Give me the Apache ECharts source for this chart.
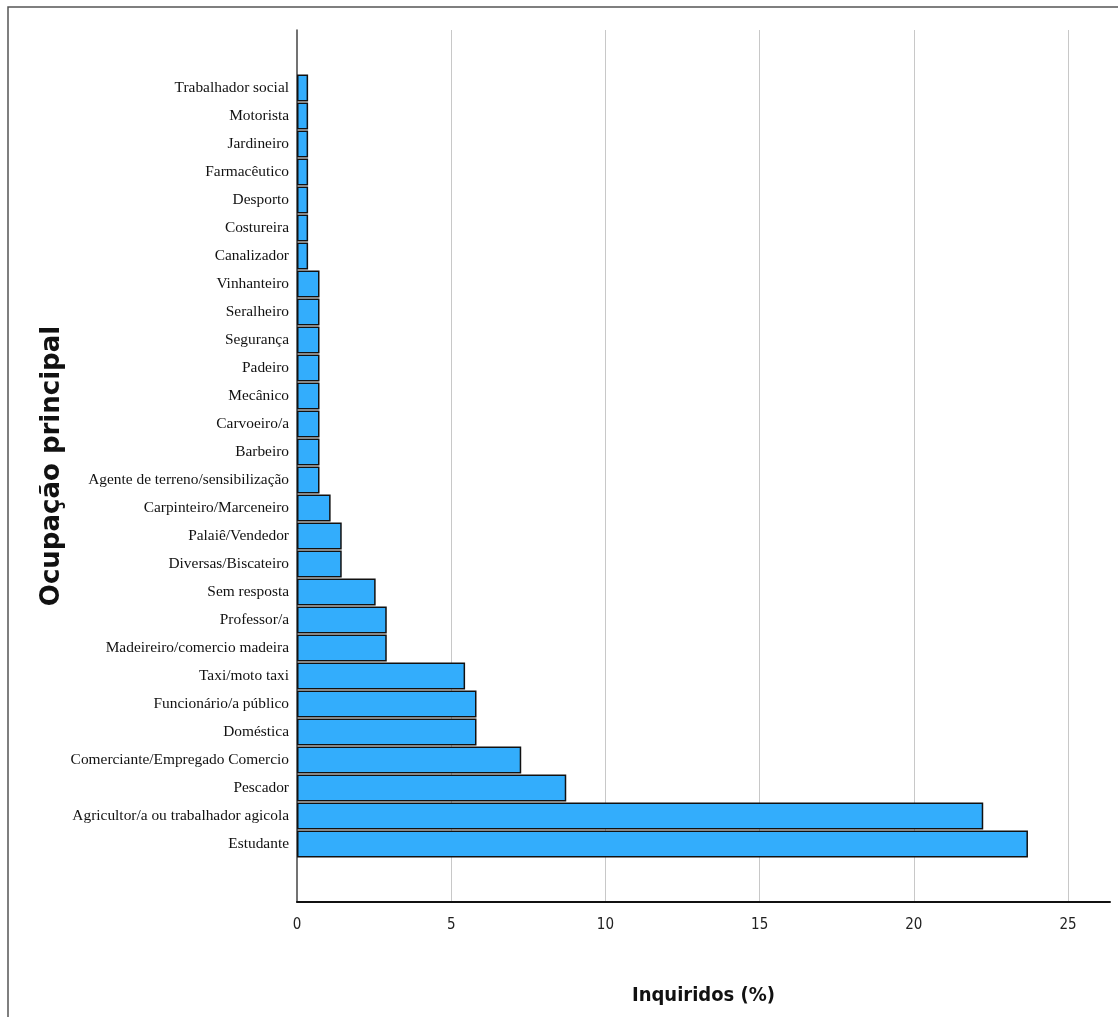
<!DOCTYPE html>
<html><head><meta charset="utf-8">
<script src="https://cdn.jsdelivr.net/npm/echarts@6/dist/echarts.min.js"></script>
<style>html,body{margin:0;padding:0;background:#fff}#c{width:1118px;height:1017px}</style>
</head><body><div id="c"></div>
<script>
const categories = ["Trabalhador social","Motorista","Jardineiro","Farmacêutico","Desporto","Costureira","Canalizador","Vinhanteiro","Seralheiro","Segurança","Padeiro","Mecânico","Carvoeiro/a","Barbeiro","Agente de terreno/sensibilização","Carpinteiro/Marceneiro","Palaiê/Vendedor","Diversas/Biscateiro","Sem resposta","Professor/a","Madeireiro/comercio madeira","Taxi/moto taxi","Funcionário/a público","Doméstica","Comerciante/Empregado Comercio","Pescador","Agricultor/a ou trabalhador agicola","Estudante"];
const values = [0.36,0.36,0.36,0.36,0.36,0.36,0.36,0.73,0.73,0.73,0.73,0.73,0.73,0.73,0.73,1.09,1.45,1.45,2.55,2.91,2.91,5.45,5.82,5.82,7.27,8.73,22.25,23.7];
const xTicks = [0,5,10,15,20,25];
const xMax = 26.36;

const chart = echarts.init(document.getElementById('c'));
chart.setOption({
  animation: false,
  backgroundColor: '#fff',
  graphic: [{type:'polyline', shape:{points:[[8,1017],[8,7],[1118,7]]}, style:{fill:'none', stroke:'#555', lineWidth:1.5}, z:-1}],
  grid: [
    {left:297, top:74, width:813, height:784},
    {left:297, top:30, width:813, height:872}
  ],
  xAxis: [
    {gridIndex:0, type:'value', min:0, max:xMax, show:false},
    {gridIndex:1, type:'value', min:0, max:xMax, interval:5,
     axisLine:{show:true, lineStyle:{color:'#111', width:2}},
     axisTick:{show:false},
     axisLabel:{showMaxLabel:false, margin:16, color:'#222', fontSize:15, fontFamily:'"DejaVu Sans Condensed",sans-serif',
       formatter: v => xTicks.includes(v) ? String(v) : ''},
     splitLine:{show:true, showMinLine:false, showMaxLine:false, lineStyle:{color:'#c8c8c8', width:1}},
     name:'Inquiridos (%)', nameLocation:'middle', nameGap:84,
     nameTextStyle:{fontSize:20, fontWeight:'bold', color:'#111', fontFamily:'"DejaVu Sans Condensed",sans-serif'}}
  ],
  yAxis: [
    {gridIndex:0, type:'category', data:categories, inverse:true,
     axisLine:{show:false}, axisTick:{show:false},
     axisLabel:{margin:8, color:'#111', fontSize:15.4, fontFamily:'"Liberation Serif",serif'}},
    {gridIndex:1, type:'value', min:0, max:1,
     axisLine:{show:true, lineStyle:{color:'#444', width:1.5}}, axisTick:{show:false}, axisLabel:{show:false}, splitLine:{show:false},
     name:'Ocupação principal', nameLocation:'middle', nameGap:232, nameRotate:90,
     nameTextStyle:{fontSize:26, fontWeight:'bold', color:'#111', fontFamily:'"DejaVu Sans",sans-serif'}}
  ],
  series: [{
    type:'bar', xAxisIndex:0, yAxisIndex:0, data:values,
    barCategoryGap:'4%',
    itemStyle:{color:'#33adfc', borderColor:'#111', borderWidth:1.5}
  }]
});
</script></body></html>
